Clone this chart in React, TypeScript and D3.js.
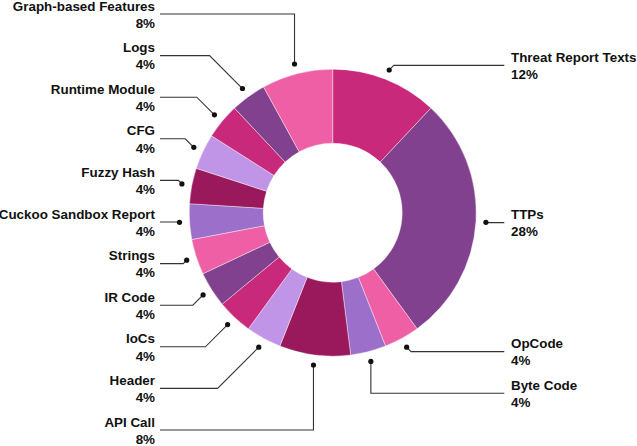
import React from "react";
import * as d3 from "d3";

const categories = [
  "Threat Report Texts",
  "TTPs",
  "OpCode",
  "Byte Code",
  "API Call",
  "Header",
  "IoCs",
  "IR Code",
  "Strings",
  "Cuckoo Sandbox Report",
  "Fuzzy Hash",
  "CFG",
  "Runtime Module",
  "Logs",
  "Graph-based Features",
];
const values = [12, 28, 4, 4, 8, 4, 4, 4, 4, 4, 4, 4, 4, 4, 8];
const palette = ["#c8297a", "#82418e", "#ee5fa6", "#9c6fcb", "#9a195d", "#c095e8"];

const W = 637;
const H = 446;
const CX = 332.7;
const CY = 212.7;
const R_IN = 69.5;
const R_OUT = 143.5;
const R_DOT = 153.5;
const R_LABEL = 158.5;
const GAP = 41.6;
const TOP = 14;
const BOTTOM = 430;

type Item = {
  name: string;
  value: number;
  color: string;
  path: string;
  dot: [number, number];
  ideal: number;
  ly: number;
  right: boolean;
  vertical: boolean;
};

export default function App() {
  const pie = d3
    .pie<number>()
    .value((d) => d)
    .sort(null);
  const arcs = pie(values);
  const arcGen = d3.arc<d3.PieArcDatum<number>>().innerRadius(R_IN).outerRadius(R_OUT);

  const items: Item[] = arcs.map((a, i) => {
    const mid = (a.startAngle + a.endAngle) / 2;
    return {
      name: categories[i],
      value: values[i],
      color: palette[i % palette.length],
      path: arcGen(a) || "",
      dot: [CX + Math.sin(mid) * R_DOT, CY - Math.cos(mid) * R_DOT],
      ideal: CY - Math.cos(mid) * R_LABEL,
      ly: 0,
      right: Math.sin(mid) > 0,
      vertical: Math.abs(Math.cos(mid)) > Math.cos((18 * Math.PI) / 180),
    };
  });

  const resolve = (list: Item[]) => {
    const s = [...list].sort((a, b) => a.ideal - b.ideal);
    let prev = -Infinity;
    s.forEach((it) => {
      it.ly = Math.max(it.ideal, prev + GAP, TOP);
      prev = it.ly;
    });
    let next = Infinity;
    for (let i = s.length - 1; i >= 0; i--) {
      s[i].ly = Math.min(s[i].ly, next - GAP, BOTTOM);
      next = s[i].ly;
    }
  };
  resolve(items.filter((d) => d.right));
  resolve(items.filter((d) => !d.right));

  const fmt = (v: number) => `${v}%`;

  return (
    <svg
      width={W}
      height={H}
      style={{ position: "absolute", left: 0, top: 0, background: "#fff" }}
      fontFamily="'Liberation Sans', Arial, sans-serif"
    >
      <g transform={`translate(${CX},${CY})`}>
        {items.map((it, i) => (
          <path key={i} d={it.path} fill={it.color} stroke="#ffffff" strokeWidth={0.4} />
        ))}
      </g>
      {items.map((it, i) => {
        const [dx, dy] = it.dot;
        const ly = it.ly;
        const off = Math.abs(dy - ly);
        const ex = it.vertical ? dx : it.right ? dx + off : dx - off;
        const sx = it.right ? 504.3 : 160;
        const tx = it.right ? 511 : 155;
        return (
          <g key={i}>
            <polyline
              points={`${sx},${ly} ${ex},${ly} ${dx},${dy}`}
              fill="none"
              stroke="#333"
              strokeWidth={1.1}
            />
            <circle cx={dx} cy={dy} r={2.6} fill="#111" />
            <text
              x={tx}
              y={ly - 3.5}
              textAnchor={it.right ? "start" : "end"}
              fontSize={13.4}
              fontWeight="bold"
              fill="#111"
            >
              {it.name}
            </text>
            <text
              x={tx}
              y={ly + 13.8}
              textAnchor={it.right ? "start" : "end"}
              fontSize={13.4}
              fontWeight="bold"
              fill="#111"
            >
              {fmt(it.value)}
            </text>
          </g>
        );
      })}
    </svg>
  );
}
